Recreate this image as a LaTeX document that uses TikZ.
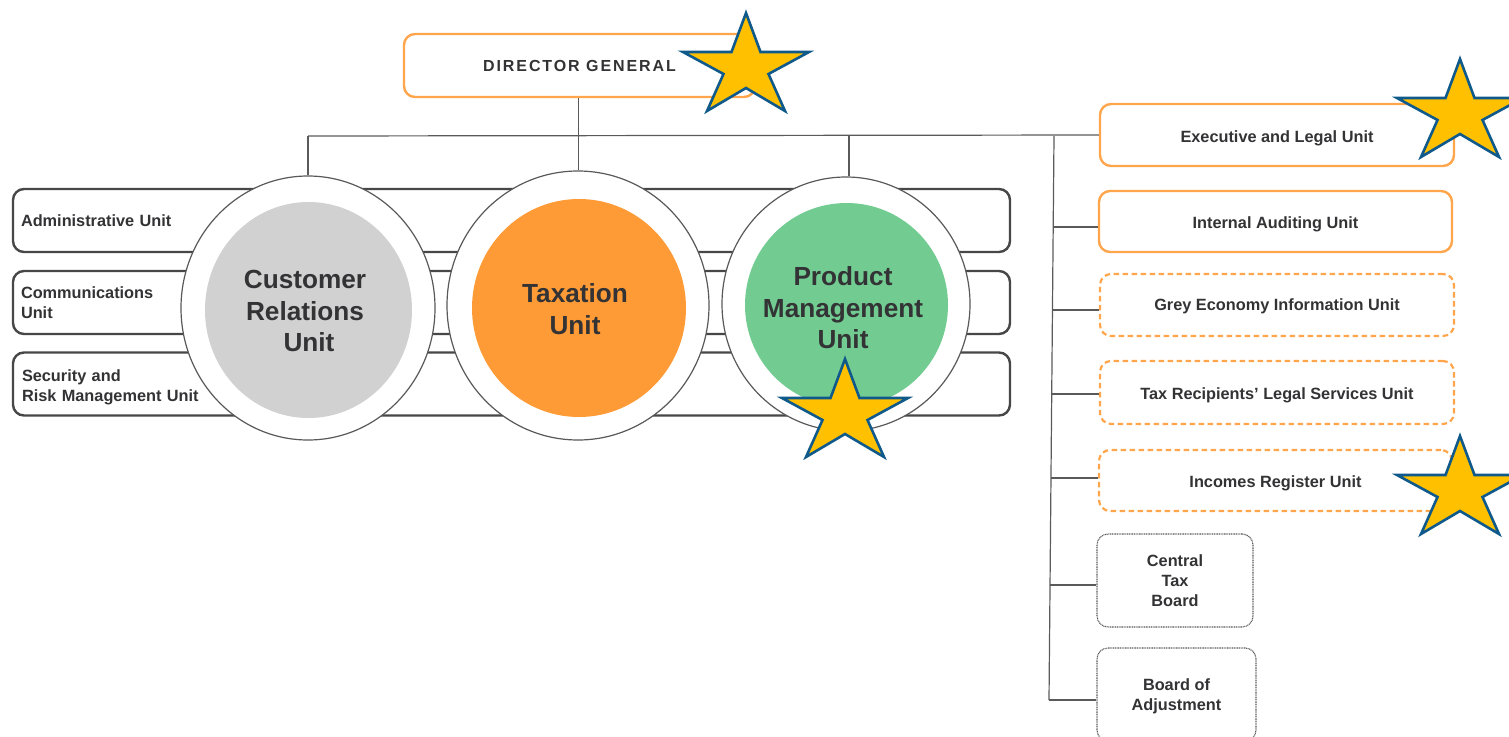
\documentclass[tikz,border=0pt]{standalone}
\usepackage{fontspec}
\setmainfont{Liberation Sans}
\usetikzlibrary{shapes.geometric}
\definecolor{orgline}{HTML}{FFA64D}
\definecolor{txt}{HTML}{333335}
\definecolor{conn}{HTML}{5A5A5A}
\definecolor{starfill}{HTML}{FFC000}
\definecolor{staredge}{HTML}{0F5A8A}
\definecolor{discgrey}{HTML}{D1D1D1}
\definecolor{discorange}{HTML}{FF9B36}
\definecolor{discgreen}{HTML}{72CC92}
\newcommand\dnrule[1]{\rule{0pt}{#1pt}}
\tikzset{
  x=1pt,y=-1pt,
  boxbase/.style={rectangle,rounded corners=11pt,inner sep=0pt,align=center,text=txt,
    font=\fontsize{16.3}{20}\selectfont\bfseries,fill=white},
  solidbox/.style={boxbase,draw=orgline,line width=2.4pt},
  dashbox/.style={boxbase,draw=orgline,line width=2.2pt,dash pattern=on 5.5pt off 3.5pt},
  dotbox/.style={boxbase,draw=black!65,line width=1.1pt,dash pattern=on 1pt off .7pt},
  barbox/.style={boxbase,draw=black!72,line width=2.4pt,minimum width=997pt,minimum height=63pt,
    align=left,text width=981pt,inner xsep=8pt},
  ringcirc/.style={ellipse,draw=black!65,line width=1.2pt,fill=white,inner sep=0pt},
  disc/.style={ellipse,inner sep=0pt,align=center,text=txt,
    font=\fontsize{26.2}{31.5}\selectfont\bfseries},
  conline/.style={draw=conn,line width=1.2pt},
  starshape/.style={draw=staredge,fill=starfill,line width=2.6pt,miter limit=10,line join=miter},
  pics/bigstar/.style={code={
    \path[starshape] (0,-1) -- (14.5,38) -- (63,38) -- (22.5,60) -- (39,97) -- (0,74)
      -- (-39,97) -- (-22.5,60) -- (-63,38) -- (-14.5,38) -- cycle;}}
}
\begin{document}
\begin{tikzpicture}
\useasboundingbox (0,0) rectangle (1509,736);
\clip (0,0) rectangle (1509,736);
\node[solidbox,minimum width=351pt,minimum height=63pt] (dg) at (579.5,65.5)
  {\addfontfeature{LetterSpace=12}\fontsize{16}{18}\selectfont\dnrule{13}DIRECTOR GENERAL};
\node[barbox,anchor=center] (b1) at (511.5,220.5) {Administrative Unit};
\node[barbox] (b2) at (511.5,302.5) {Communications\\Unit};
\node[barbox] (b3) at (511.5,384) {\dnrule{18}\hspace*{1pt}Security and\\\hspace*{1pt}Risk Management Unit};
\node[ringcirc,minimum width=254pt,minimum height=264pt] (r1) at (308,308) {};
\node[ringcirc,minimum width=262pt,minimum height=269pt] (r2) at (578,305.5) {};
\node[ringcirc,minimum width=248pt,minimum height=254pt] (r3) at (846,304) {};
\node[disc,fill=discgrey,minimum width=207pt,minimum height=216pt] (d1) at (308.5,310) {};
\node[disc,fill=discorange,minimum width=214pt,minimum height=218pt] (d2) at (579,308) {};
\node[disc,fill=discgreen,minimum width=203pt,minimum height=204pt] (d3) at (846.5,305) {};
\node[disc] (t1) at (305,311) {Customer\\Relations\\\hspace*{8pt}Unit};
\node[disc] (t2) at (575,309) {Taxation\\Unit};
\node[disc] (t3) at (843,308) {Product\\Management\\Unit};
\node[solidbox,minimum width=354pt,minimum height=62pt] (u1) at (1277,135) {\dnrule{18}Executive and Legal Unit};
\node[solidbox,minimum width=353pt,minimum height=61pt] (u2) at (1275.5,221.5) {\dnrule{18}Internal Auditing Unit};
\node[dashbox,minimum width=354pt,minimum height=62pt] (u3) at (1277,305) {\dnrule{15}Grey Economy Information Unit};
\node[dashbox,minimum width=354pt,minimum height=63pt] (u4) at (1277,392.5) {\dnrule{17}Tax Recipients’ Legal Services Unit};
\node[dashbox,minimum width=353pt,minimum height=61pt] (u5) at (1275.5,480.5) {\dnrule{17}Incomes Register Unit};
\node[dotbox,minimum width=156pt,minimum height=93pt] (u6) at (1175,580.5) {Central\\Tax\\Board};
\node[dotbox,minimum width=159pt,minimum height=93pt] (u7) at (1176.5,694.5) {\dnrule{15}Board of\\Adjustment};
\coordinate (jl) at (308,136);
\coordinate (jm) at (578.5,136);
\coordinate (jr) at (849,136);
\coordinate (tt) at (1054,136);
\coordinate (tb) at (1049,700);
\coordinate (j2) at (1053.5,227);
\coordinate (j3) at (1053,310);
\coordinate (j4) at (1052,394);
\coordinate (j5) at (1051,478);
\coordinate (j6) at (1050,585);
\draw[conline] (jl) -- (u1.west);
\draw[conline] (dg.south -| jm) -- (r2.north -| jm);
\draw[conline] (jl) -- (r1.north);
\draw[conline] (jr) -- (jr |- r3.north);
\draw[conline] (tt) -- (tb);
\draw[conline] (j2) -- (j2 -| u2.west);
\draw[conline] (j3) -- (j3 -| u3.west);
\draw[conline] (j4) -- (j4 -| u4.west);
\draw[conline] (j5) -- (j5 -| u5.west);
\draw[conline] (j6) -- (j6 -| u6.west);
\draw[conline] (tb) -- (tb -| u7.west);
\pic at (746,14) {bigstar};
\pic at (1460,60) {bigstar};
\pic at (845,360) {bigstar};
\pic at (1460,437) {bigstar};
\end{tikzpicture}
\end{document}
